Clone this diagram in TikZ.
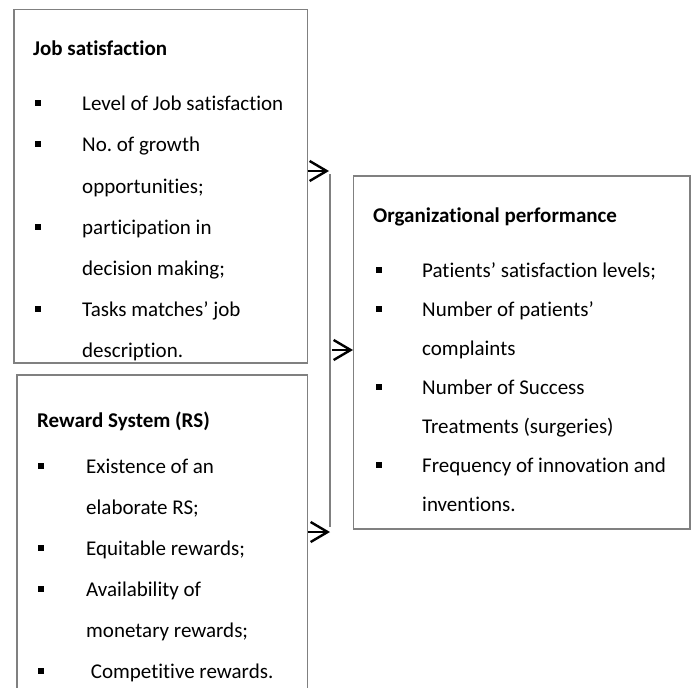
\documentclass[tikz,border=0pt]{standalone}
\usepackage{fontspec}
\setmainfont{Carlito}[RawFeature={-liga;-clig;-dlig}]
\usetikzlibrary{arrows.meta}
\definecolor{boxgray}{RGB}{128,128,128}
\frenchspacing
\tikzset{
  x=1pt,y=-1pt,
  boxline/.style={draw=boxgray,line width=1.4pt},
  head/.style={anchor=base west,inner sep=0pt,font=\fontsize{21}{25}\selectfont\bfseries},
  item/.style={anchor=base west,inner sep=0pt,font=\fontsize{21}{25}\selectfont},
  bul/.style={fill=black,minimum size=6pt,inner sep=0pt,outer sep=0pt,draw=none},
  conn/.style={draw=boxgray,line width=1.4pt},
  arr/.style={draw=black,line width=2.4pt,-{Straight Barb[length=17pt,width=20pt,line width=2.4pt]}}
}
\begin{document}
\begin{tikzpicture}
\clip (0,0) rectangle (692,687);
\fill[white] (0,0) rectangle (692,687);
% boxes
\path[boxline] (14,9.5) rectangle (307.5,363);
\node[inner sep=0pt] (box1) at (160.75,186.25) [minimum width=293.5pt,minimum height=353.5pt] {};
\path[boxline] (17,700) -- (17,375) -- (307.5,375) -- (307.5,700);
\coordinate (box2) at (162,375);
\node[boxline,minimum width=336.5pt,minimum height=353pt,inner sep=0pt] (box3) at (521.75,352.5) {};
% box 1 text
\node[head] (h1) at (33,56) {Job satisfaction};
\foreach \y/\t/\b [count=\i] in {111/Level of Job satisfaction/1,152/No. of growth/1,193/opportunities;/0,234/participation in/1,275/decision making;/0,316/Tasks matches’ job/1,357/description./0}{
  \node[item] (a\i) at (82,\y) {\t};
  \ifnum\b=1 \node[bul] (ab\i) at (38,\y-7.5) {};\fi
}
% box 2 text
\node[head] (h2) at (37,427) {Reward System (RS)};
\foreach \y/\t/\b/\xx [count=\i] in {473/Existence of an/1/86,514/elaborate RS;/0/86,555/Equitable rewards;/1/86,596/Availability of/1/86,637/monetary rewards;/0/86,678/Competitive rewards./1/90.7}{
  \node[item] (r\i) at (\xx,\y) {\t};
  \ifnum\b=1 \node[bul] (rb\i) at (41,\y-7.5) {};\fi
}
% box 3 text
\node[head] (h3) at (373,222) {Organizational performance};
\foreach \y/\t/\b [count=\i] in {277/Patients’ satisfaction levels;/1,316/Number of patients’/1,355/complaints/0,394/Number of Success/1,433/Treatments (surgeries)/0,472/Frequency of innovation and/1,511/inventions./0}{
  \node[item] (o\i) at (422,\y) {\t};
  \ifnum\b=1 \node[bul] (ob\i) at (379,\y-7.5) {};\fi
}
% connectors
\coordinate (vtop) at (330,174);
\coordinate (vbot) at (330,527);
\draw[conn] (vtop) -- (vbot);
\coordinate (a1s) at (307.5,171);
\coordinate (a1e) at (329,171);
\coordinate (a2s) at (332,350);
\coordinate (a2e) at (353,350);
\coordinate (a3s) at (307.5,532);
\coordinate (a3e) at (330,532);
\draw[arr] (a1s) -- (a1e);
\draw[arr] (a2s) -- (a2e);
\draw[arr] (a3s) -- (a3e);
\end{tikzpicture}
\end{document}
